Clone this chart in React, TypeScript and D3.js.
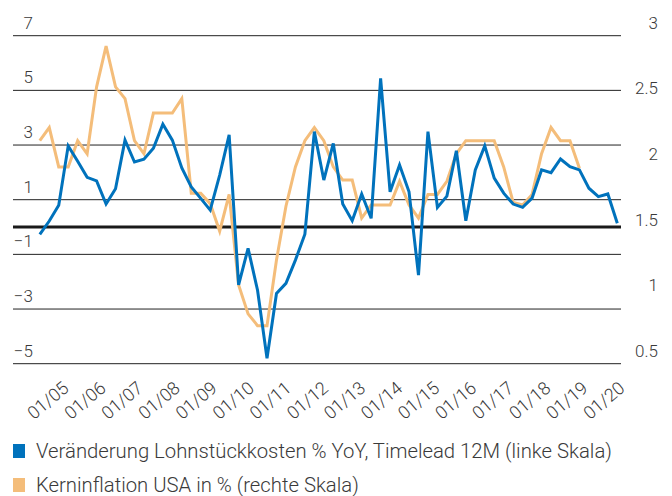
import React from 'react';
import * as d3 from 'd3';

// x axis labels (one per year)
const yearLabels = [
  '01/05', '01/06', '01/07', '01/08', '01/09', '01/10', '01/11', '01/12',
  '01/13', '01/14', '01/15', '01/16', '01/17', '01/18', '01/19', '01/20',
];

const leftTicks = [7, 5, 3, 1, -1, -3, -5];
const rightTicks = [3, 2.5, 2, 1.5, 1, 0.5];

// Veränderung Lohnstückkosten % YoY, Timelead 12M (quarterly, left scale)
const lohnstueckkosten = [
  -0.27, 0.22, 0.8, 2.97, 2.41, 1.82, 1.69, 0.84, 1.4, 3.18,
  2.38, 2.48, 2.88, 3.76, 3.18, 2.16, 1.47, 1.05, 0.62, 1.9,
  3.37, -2.12, -0.78, -2.31, -4.8, -2.43, -2.06, -1.21, -0.26, 3.49,
  1.72, 3.06, 0.84, 0.23, 1.21, 0.32, 5.44, 1.29, 2.27, 1.29,
  -1.76, 3.49, 0.72, 1.13, 2.79, 0.23, 2.09, 2.97, 1.79, 1.24,
  0.84, 0.72, 1.06, 2.09, 1.99, 2.49, 2.21, 2.09, 1.42, 1.11,
  1.21, 0.14,
];

// Kerninflation USA in % (quarterly, right scale)
const kerninflation = [
  2.2, 2.3, 2.0, 2.0, 2.2, 2.1, 2.61, 2.92, 2.61, 2.52,
  2.2, 2.1, 2.41, 2.41, 2.41, 2.52, 1.8, 1.8, 1.72, 1.51,
  1.79, 1.1, 0.88, 0.79, 0.79, 1.29, 1.7, 2.0, 2.2, 2.3,
  2.2, 2.0, 1.9, 1.9, 1.61, 1.71, 1.71, 1.71, 1.89, 1.71,
  1.61, 1.79, 1.79, 1.89, 2.1, 2.2, 2.2, 2.2, 2.2, 2.0,
  1.73, 1.71, 1.79, 2.1, 2.3, 2.2, 2.2, 1.99,
];

const legendItems = [
  { label: 'Veränderung Lohnstückkosten % YoY, Timelead 12M (linke Skala)', color: '#0072bc' },
  { label: 'Kerninflation USA in % (rechte Skala)', color: '#f4bd7a' },
];

const width = 672;
const height = 496;
const font = 'Roboto, "Liberation Sans", sans-serif';
const textColor = '#3a3a3a';

function App() {
  const gridLeft = 13;
  const gridRight = 621;

  const xData = d3.scaleLinear().domain([0, lohnstueckkosten.length - 1]).range([39.8, 617.3]);
  const xLabel = d3.scalePoint<string>().domain(yearLabels).range([70, 626]);
  const yLeft = d3.scaleLinear().domain([-5, 7]).range([363.7, 35.7]);
  const yRight = d3.scaleLinear().domain([0.5, 3]).range([363.7, 35.7]);
  const fmt = d3.format('~g');

  const blueLine = d3.line<number>()
    .x((d, i) => xData(i))
    .y(d => yLeft(d));
  const orangeLine = d3.line<number>()
    .x((d, i) => xData(i))
    .y(d => yRight(d));

  return (
    <svg width={width} height={height} style={{ position: 'absolute', left: 0, top: 0, background: '#fff' }}
      fontFamily={font}>
      {/* grid */}
      {leftTicks.map(t => (
        <line key={t} x1={gridLeft} x2={gridRight} y1={yLeft(t)} y2={yLeft(t)} stroke="#222" strokeWidth={1} />
      ))}
      <line x1={gridLeft} x2={gridRight} y1={yLeft(0)} y2={yLeft(0)} stroke="#1a1a1a" strokeWidth={3} />

      {/* left axis labels */}
      {leftTicks.map(t => (
        <text key={t} x={33} y={yLeft(t) - 7} textAnchor="end" fontSize={17} fontWeight={300} fill={textColor}>
          {fmt(t)}
        </text>
      ))}

      {/* right axis labels */}
      {rightTicks.map(t => (
        <text key={t} x={658} y={yRight(t) - 7} textAnchor="end" fontSize={17} fontWeight={300} fill={textColor}>
          {fmt(t)}
        </text>
      ))}

      {/* lines */}
      <path d={orangeLine(kerninflation) || ''} fill="none" stroke="#f4bd7a" strokeWidth={3} strokeLinejoin="miter" />
      <path d={blueLine(lohnstueckkosten) || ''} fill="none" stroke="#0072bc" strokeWidth={3} strokeLinejoin="miter" />

      {/* x labels */}
      {yearLabels.map(l => (
        <text key={l} transform={`translate(${xLabel(l)},390) rotate(-40)`} textAnchor="end"
          fontSize={18} fontWeight={300} fill={textColor}>
          {l}
        </text>
      ))}

      {/* legend */}
      {legendItems.map((item, i) => (
        <g key={item.label} transform={`translate(0,${444 + i * 34})`}>
          <rect x={13} y={0} width={12} height={14} fill={item.color} />
          <text x={36} y={14} fontSize={20.3} fontWeight={300} fill={textColor}>{item.label}</text>
        </g>
      ))}
    </svg>
  );
}

export default App;
